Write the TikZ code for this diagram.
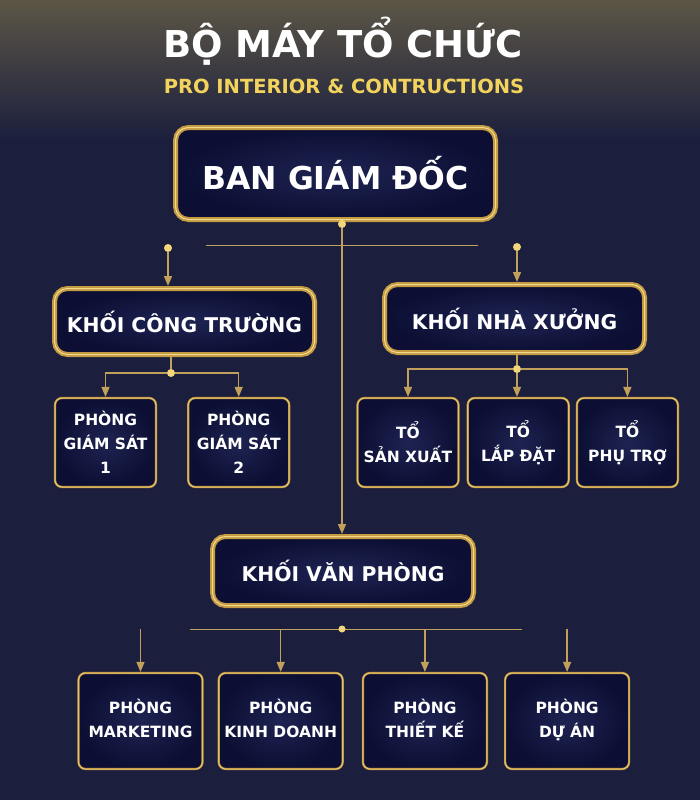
\documentclass[tikz,border=0pt]{standalone}
\usepackage{fontspec}
\usepackage{xcolor}
\usetikzlibrary{arrows.meta,positioning}
\newfontfamily\orgfont{DejaVu Sans}
\definecolor{bgnavy}{HTML}{1B1F3D}
\definecolor{bgtop}{HTML}{5C5646}
\definecolor{boxdark}{HTML}{0C0F33}
\definecolor{boxlight}{HTML}{1E2352}
\definecolor{orggold}{HTML}{C49A42}
\definecolor{goldhi}{HTML}{F2DA8C}
\definecolor{linegold}{HTML}{C0A05A}
\definecolor{dotgold}{HTML}{F3D67C}
\definecolor{subyellow}{HTML}{F2D35E}

\begin{document}
\begin{tikzpicture}[
  x=1pt, y=-1pt,
  bigbox/.style={draw=orggold, line width=5pt, rounded corners=13pt,
               inner color=boxlight, outer color=boxdark, text=white,
               font=\orgfont\bfseries\fontsize{20.3}{26}\selectfont,
               postaction={draw=goldhi, line width=1pt}},
  smallbox/.style={draw=orggold, line width=2.2pt, rounded corners=7pt,
               inner color=boxlight, outer color=boxdark, text=white, align=center,
               font=\orgfont\bfseries\fontsize{15.5}{24}\selectfont,
               postaction={draw=goldhi, line width=0.5pt}},
  arr/.style={-{Triangle[width=8pt,length=10pt]}, line width=1.4pt, linegold},
  link/.style={line width=1.4pt, linegold},
  thinline/.style={line width=1pt, linegold},
  golddot/.style={circle, fill=dotgold, inner sep=0pt, minimum size=8pt}
]
% background
\fill[bgnavy] (0,0) rectangle (700,800);
\shade[top color=bgtop, bottom color=bgnavy] (0,0) rectangle (700,140);
\useasboundingbox (0,0) rectangle (700,800);

% title
\node[anchor=base, text=white, font=\orgfont\bfseries\fontsize{37}{44}\selectfont] (title) at (343,57) {BỘ MÁY TỔ CHỨC};
\node[anchor=base, text=subyellow, font=\orgfont\bfseries\fontsize{19.5}{24}\selectfont] (subtitle) at (344,93) {PRO INTERIOR \& CONTRUCTIONS};

% main blocks
\node[bigbox, minimum width=320pt, minimum height=92pt, font=\orgfont\bfseries\fontsize{31.5}{36}\selectfont] (bgd) at (335.5,173.5) {BAN GIÁM ĐỐC};
\node[bigbox, minimum width=260pt, minimum height=66pt] (kct) at (184.5,321.5) {KHỐI CÔNG TRƯỜNG};
\node[bigbox, minimum width=260pt, minimum height=68pt] (knx) at (514.5,318.5) {KHỐI NHÀ XƯỞNG};
\node[bigbox, minimum width=261pt, minimum height=69pt] (kvp) at (343,571) {KHỐI VĂN PHÒNG};

% departments
\node[smallbox, minimum width=101pt, minimum height=89pt] (gs1) at (105.5,442.5) {PHÒNG\\GIÁM SÁT\\1};
\node[smallbox, minimum width=101pt, minimum height=89pt, right=30pt of gs1] (gs2) {PHÒNG\\GIÁM SÁT\\2};
\node[smallbox, minimum width=101pt, minimum height=89pt] (tsx) at (408,442.5) {TỔ\\SẢN XUẤT};
\node[smallbox, minimum width=101pt, minimum height=89pt, right=7pt of tsx] (tld) {TỔ\\LẮP ĐẶT};
\node[smallbox, minimum width=101pt, minimum height=89pt, right=6pt of tld] (tpt) {TỔ\\PHỤ TRỢ};
\node[smallbox, minimum width=124pt, minimum height=96pt, text depth=6pt] (pmk) at (140.5,721) {PHÒNG\\MARKETING};
\node[smallbox, minimum width=124pt, minimum height=96pt, text depth=6pt, right=14pt of pmk] (pkd) {PHÒNG\\KINH DOANH};
\node[smallbox, minimum width=124pt, minimum height=96pt, text depth=6pt, right=18pt of pkd] (ptk) {PHÒNG\\THIẾT KẾ};
\node[smallbox, minimum width=124pt, minimum height=96pt, text depth=6pt, right=16pt of ptk] (pda) {PHÒNG\\DỰ ÁN};

% connectors below ban giam doc
\coordinate (hl1) at (206,245);
\coordinate (hl2) at (478,245);
\draw[thinline] (hl1) -- (hl2);
\node[golddot] (trunk) at (342,224) {};
\draw[arr] (trunk) -- (trunk |- kvp.north);
\node[golddot] (dL) at (168,248) {};
\node[golddot] (dR) at (517,247) {};
\draw[arr] (dL) -- (dL |- kct.north);
\draw[arr] (dR) -- (dR |- knx.north);

% khoi cong truong
\node[golddot] (dCT) at (171,373) {};
\draw[link] (dCT |- kct.south) -- (dCT);
\draw[arr] (dCT) -| (gs1);
\draw[arr] (dCT) -| (gs2);

% khoi nha xuong
\node[golddot] (dNX) at (517,369) {};
\draw[link] (dNX |- knx.south) -- (dNX);
\draw[arr] (dNX) -| (tsx);
\draw[arr] (dNX) -- (dNX |- tld.north);
\draw[arr] (dNX) -| (tpt);

% khoi van phong
\coordinate (vl1) at (190,629);
\coordinate (vl2) at (522,629);
\draw[thinline] (vl1) -- (vl2);
\node[golddot, minimum size=7pt] (dVP) at (342,629) {};
\draw[arr] (pmk.north |- dVP) -- (pmk);
\draw[arr] (pkd.north |- dVP) -- (pkd);
\draw[arr] (ptk.north |- dVP) -- (ptk);
\draw[arr] (pda.north |- dVP) -- (pda);
\end{tikzpicture}
\end{document}
